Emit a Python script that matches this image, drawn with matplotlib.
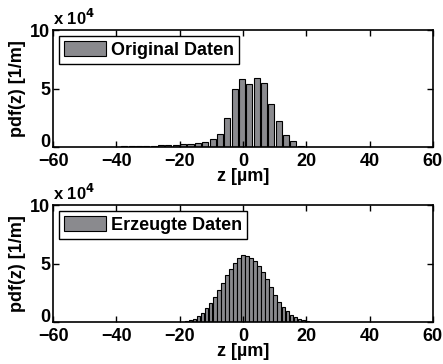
import numpy as np
import matplotlib
matplotlib.use("Agg")
import matplotlib.pyplot as plt
from matplotlib.ticker import FuncFormatter

plt.rcParams['font.family'] = ['Liberation Sans', 'DejaVu Sans']
plt.rcParams['font.weight'] = 'bold'

# original data: bin centres (um) and pdf values (x 1e4 1/m)
orig_z = np.arange(-20, 9) * 2.32 - 0.35
orig_pdf = [0.02, 0.03, 0.03, 0.04, 0.05, 0.06, 0.08, 0.10, 0.12, 0.15,
            0.18, 0.20, 0.22, 0.28, 0.33, 0.42, 0.68, 1.12, 2.50, 4.95,
            5.80, 5.38, 5.88, 5.52, 3.72, 2.20, 1.05, 0.48, 0.08]

# generated data
gen_z = np.arange(-16, 18) * 1.27
gen_pdf = [0.03, 0.04, 0.08, 0.15, 0.30, 0.50, 0.80, 1.20, 1.65, 2.15,
           2.75, 3.35, 4.00, 4.55, 5.05, 5.45, 5.72, 5.66, 5.50, 5.20,
           4.80, 4.25, 3.65, 3.00, 2.35, 1.75, 1.30, 0.95, 0.65, 0.42,
           0.27, 0.17, 0.10, 0.05]

xticks = [-60, -40, -20, 0, 20, 40, 60]
yticks = [0, 5e4, 10e4]

fig = plt.figure(figsize=(4.43, 3.64), dpi=100)
ax1 = fig.add_axes([0.12, 0.596, 0.857, 0.321])
ax2 = fig.add_axes([0.12, 0.115, 0.857, 0.321])

for ax, z, pdf, w, lab in [(ax1, orig_z, orig_pdf, 2.32, 'Original Daten'),
                           (ax2, gen_z, gen_pdf, 1.27, 'Erzeugte Daten')]:
    ax.bar(z, np.array(pdf) * 1e4, width=w * 0.82, color='#8a8a8e',
           edgecolor='black', linewidth=0.8, label=lab)
    ax.set_xlim(-60, 60)
    ax.set_ylim(0, 10e4)
    ax.set_xticks(xticks)
    ax.set_yticks(yticks)
    ax.xaxis.set_major_formatter(FuncFormatter(lambda v, p: f'{v:.0f}'.replace('-', '\u2212')))
    ax.yaxis.set_major_formatter(FuncFormatter(lambda v, p: f'{v / 1e4:.0f}'))
    ax.tick_params(direction='in', top=True, right=True, labelsize=13,
                   length=4, width=1)
    ax.tick_params(axis='x', pad=4)
    ax.tick_params(axis='y', pad=2)
    ax.get_yticklabels()[0].set_va('baseline')
    for s in ax.spines.values():
        s.set_linewidth(1.2)
    ax.set_xlabel('z [\u00b5m]', fontsize=13, fontweight='bold', labelpad=-1)
    ax.set_ylabel('pdf(z) [1/m]', fontsize=13, fontweight='bold', labelpad=3)
    ax.text(0.0, 1.02, r'x 10$^{\mathbf{4}}$', transform=ax.transAxes,
            fontsize=12, fontweight='bold', ha='left', va='bottom')
    leg = ax.legend(loc='upper left', fontsize=13, handlelength=2.3,
                    handleheight=0.9, fancybox=False, borderaxespad=0.3,
                    borderpad=0.3, handletextpad=0.3, framealpha=1)
    leg.get_frame().set_edgecolor('black')
    leg.get_frame().set_linewidth(1.0)
    for t in leg.get_texts():
        t.set_fontweight('bold')

fig.savefig('out.png', dpi=100)
